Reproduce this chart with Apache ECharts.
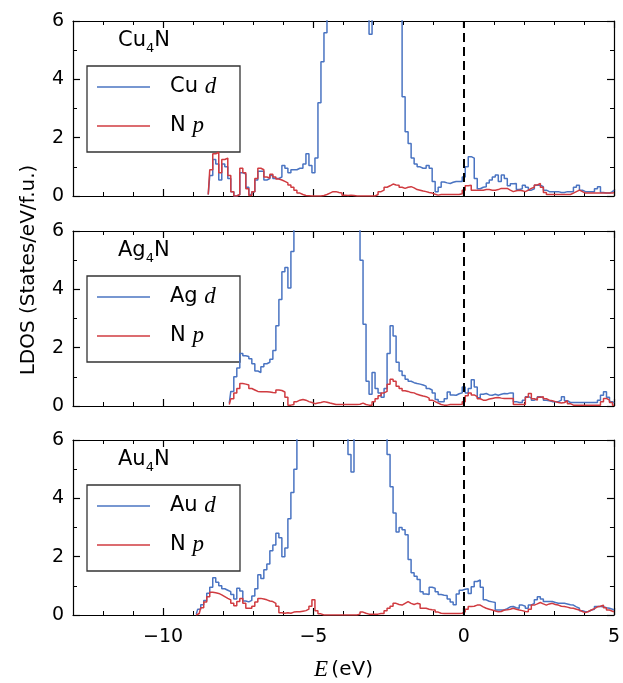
<!DOCTYPE html>
<html>
<head>
<meta charset="utf-8">
<script src="https://cdn.jsdelivr.net/npm/echarts@6/dist/echarts.min.js"></script>
<style>
  html, body { margin: 0; padding: 0; background: #fff; }
  #chart { width: 623px; height: 683px; }
</style>
</head>
<body>
<div id="chart"></div>
<script>
// Local density of states of the anti-perovskite nitrides M4N (M = Cu, Ag, Au).
// Each series is sampled on a 0.1 eV energy grid starting at its own first energy.
const energyStep = 0.1;
const xMajorTicks = [-10, -5, 0, 5];
const xMinorTicks = [-12, -11, -10, -9, -8, -7, -6, -5, -4, -3, -2, -1, 0, 1, 2, 3, 4];
const metals = ['Cu', 'Ag', 'Au'];

// Cu4N: Cu d and N p, from -8.5 eV
const cuStart = -8.5;
const cuD = [
  0.05, 0.7, 1.25, 1.1, 0.55,
  1.1, 1.0, 0.6, 0.15, 0.0, 0.05, 0.8, 0.75, 0.3, 0.05,
  0.15, 0.55, 0.85, 0.85, 0.55, 0.6, 0.7, 0.6, 0.6, 0.65,
  1.05, 0.95, 0.8, 0.9, 0.9, 0.95, 0.95, 1.1, 1.45, 1.05,
  0.8, 1.3, 3.2, 4.6, 5.6, 6.8, 8.0, 9.5, 11, 12,
  13, 13.5, 13, 12, 11, 10, 9, 8, 6.3, 5.55,
  6.4, 7.5, 8.5, 9, 9, 8.5, 8, 7.5, 7, 6.5,
  3.4, 2.2, 1.8, 1.3, 1.1, 1.0, 0.95, 0.95, 1.05, 0.95,
  0.5, 0.15, 0.3, 0.48, 0.45, 0.43, 0.47, 0.5, 0.5, 0.5,
  0.65, 1.0, 1.35, 1.3, 0.6, 0.25, 0.3, 0.32, 0.45, 0.55,
  0.65, 0.72, 0.5, 0.72, 0.6, 0.35, 0.42, 0.43, 0.22, 0.25,
  0.37, 0.3, 0.2, 0.25, 0.37, 0.37, 0.32, 0.2, 0.15, 0.15,
  0.15, 0.15, 0.12, 0.12, 0.15, 0.15, 0.15, 0.3, 0.37, 0.2,
  0.15, 0.15, 0.15, 0.15, 0.25, 0.32, 0.12, 0.1, 0.1, 0.15,
  0.2
];
const cuNp = [
  0.05, 0.9, 1.45, 1.5, 0.8,
  1.25, 1.3, 0.7, 0.15, 0.0, 0.05, 0.95, 0.8, 0.25, 0.02,
  0.15, 0.6, 0.95, 0.9, 0.65, 0.62, 0.75, 0.65, 0.58, 0.55,
  0.5, 0.45, 0.38, 0.3, 0.2, 0.1, 0.05, 0.02, 0.01, 0.0,
  0.0, 0.0, 0.0, 0.02, 0.05, 0.1, 0.15, 0.15, 0.12, 0.1,
  0.03, 0.02, 0.03, 0.02, 0.0, 0.0, 0.0, 0.0, 0.0, 0.0,
  0.0, 0.05, 0.15, 0.2, 0.3, 0.35, 0.41, 0.38, 0.37, 0.3,
  0.26, 0.3, 0.32, 0.28, 0.22, 0.2, 0.17, 0.15, 0.12, 0.1,
  0.06, 0.03, 0.05, 0.05, 0.05, 0.05, 0.05, 0.05, 0.05, 0.08,
  0.2, 0.35, 0.37, 0.2, 0.2, 0.2, 0.2, 0.22, 0.22, 0.2,
  0.2, 0.22, 0.26, 0.26, 0.26, 0.2, 0.15, 0.18, 0.2, 0.18,
  0.15, 0.2, 0.26, 0.3, 0.38, 0.43, 0.3, 0.12, 0.05, 0.05,
  0.05, 0.05, 0.05, 0.05, 0.05, 0.05, 0.1, 0.15, 0.2, 0.15,
  0.1, 0.1, 0.1, 0.1, 0.1, 0.1, 0.1, 0.1, 0.1, 0.1,
  0.12
];

// Ag4N: Ag d and N p, from -7.8 eV
const agStart = -7.8;
const agD = [
  0.1, 0.5, 1.0, 1.3, 1.8, 1.72, 1.7, 1.62,
  1.45, 1.2, 1.15, 1.35, 1.45, 1.5, 1.6, 1.9, 2.75, 3.65,
  4.6, 4.75, 4.05, 5.3, 6.4, 7.5, 8.5, 9.5, 10.5, 11,
  11.5, 12, 12, 12, 11.5, 11, 11, 10.5, 10, 9.5,
  9, 8.5, 8, 7.5, 7, 6.5, 5.0, 2.8, 0.85, 0.4,
  1.15, 0.6, 0.45, 0.3, 0.6, 1.8, 2.75, 2.4, 1.5, 1.2,
  1.05, 0.92, 0.85, 0.8, 0.77, 0.75, 0.72, 0.68, 0.6, 0.55,
  0.45, 0.22, 0.15, 0.15, 0.25, 0.48, 0.38, 0.37, 0.42, 0.45,
  0.65, 0.45, 0.6, 0.9, 0.65, 0.28, 0.4, 0.43, 0.38, 0.37,
  0.4, 0.37, 0.4, 0.43, 0.42, 0.45, 0.45, 0.15, 0.12, 0.12,
  0.2, 0.32, 0.28, 0.2, 0.25, 0.32, 0.28, 0.2, 0.18, 0.15,
  0.15, 0.15, 0.2, 0.32, 0.18, 0.12, 0.12, 0.12, 0.12, 0.12,
  0.12, 0.12, 0.12, 0.12, 0.12, 0.2, 0.37, 0.49, 0.3, 0.15,
  0.1
];
const agNp = [
  0.05, 0.25, 0.45, 0.6, 0.77, 0.75, 0.72, 0.6,
  0.55, 0.5, 0.49, 0.49, 0.49, 0.48, 0.46, 0.45, 0.55, 0.53,
  0.48, 0.3, 0.03, 0.05, 0.15, 0.2, 0.22, 0.2, 0.15, 0.12,
  0.08, 0.1, 0.12, 0.15, 0.13, 0.1, 0.08, 0.05, 0.05, 0.05,
  0.05, 0.05, 0.05, 0.05, 0.05, 0.06, 0.1, 0.05, 0.03, 0.03,
  0.15, 0.25, 0.35, 0.45, 0.5, 0.75, 0.92, 0.85, 0.68, 0.6,
  0.52, 0.5, 0.46, 0.45, 0.4, 0.37, 0.34, 0.32, 0.27, 0.2,
  0.15, 0.1, 0.05, 0.03, 0.03, 0.05, 0.05, 0.05, 0.05, 0.06,
  0.15, 0.35, 0.45, 0.38, 0.32, 0.25, 0.2, 0.2, 0.24, 0.26,
  0.28, 0.29, 0.27, 0.26, 0.26, 0.26, 0.26, 0.05, 0.05, 0.05,
  0.05, 0.3, 0.43, 0.25, 0.2, 0.3, 0.32, 0.25, 0.2, 0.18,
  0.15, 0.12, 0.1, 0.12, 0.18, 0.08, 0.03, 0.03, 0.03, 0.03,
  0.03, 0.03, 0.03, 0.03, 0.03, 0.03, 0.15, 0.26, 0.2, 0.12,
  0.03
];

// Au4N: Au d and N p, from -8.9 eV
const auStart = -8.9;
const auD = [
  0.02, 0.2, 0.35, 0.5, 0.75, 0.95, 1.28, 1.12, 1.0,
  0.9, 0.85, 0.8, 0.7, 0.55, 0.92, 0.82, 0.48, 0.45, 0.5,
  0.65, 0.9, 1.38, 1.25, 1.55, 1.75, 2.2, 2.4, 2.8, 2.65,
  2.0, 2.3, 3.3, 4.2, 5.0, 6.2, 7.5, 8.5, 9.5, 10.5,
  11, 11.5, 12, 12, 12, 11.5, 11, 10.5, 10, 9,
  8, 7, 5.5, 4.9, 6.3, 7.5, 8.5, 9.5, 10, 10,
  9.5, 9, 8, 7, 6.5, 5.5, 4.4, 3.5, 2.85, 3.0,
  2.92, 2.75, 1.9, 1.45, 1.33, 1.22, 0.8, 0.72, 0.7, 0.95,
  0.92, 0.8, 0.7, 0.68, 0.67, 0.55, 0.45, 0.35, 0.72, 0.85,
  0.88, 0.9, 0.74, 0.97, 1.15, 1.2, 0.95, 0.52, 0.47, 0.45,
  0.43, 0.17, 0.17, 0.17, 0.22, 0.28, 0.29, 0.25, 0.23, 0.34,
  0.3, 0.23, 0.34, 0.4, 0.52, 0.63, 0.55, 0.46, 0.46, 0.46,
  0.43, 0.4, 0.4, 0.4, 0.38, 0.35, 0.34, 0.28, 0.23, 0.15,
  0.11, 0.12, 0.17, 0.2, 0.29, 0.29, 0.28, 0.25, 0.23, 0.2,
  0.17
];
const auNp = [
  0.0, 0.05, 0.25, 0.45, 0.63, 0.78, 0.76, 0.74, 0.69,
  0.63, 0.57, 0.52, 0.4, 0.32, 0.46, 0.57, 0.4, 0.23, 0.23,
  0.3, 0.45, 0.57, 0.55, 0.52, 0.48, 0.46, 0.4, 0.3, 0.08,
  0.06, 0.08, 0.06, 0.1, 0.11, 0.11, 0.13, 0.15, 0.2, 0.3,
  0.52, 0.15, 0.04, 0.0, 0.0, 0.0, 0.0, 0.0, 0.0, 0.0,
  0.0, 0.0, 0.0, 0.0, 0.0, 0.03, 0.1, 0.06, 0.03, 0.03,
  0.03, 0.03, 0.05, 0.05, 0.15, 0.23, 0.3, 0.4, 0.36, 0.34,
  0.4, 0.46, 0.4, 0.36, 0.4, 0.38, 0.23, 0.23, 0.2, 0.18,
  0.17, 0.1, 0.06, 0.05, 0.05, 0.05, 0.05, 0.05, 0.05, 0.06,
  0.11, 0.2, 0.29, 0.3, 0.34, 0.34, 0.28, 0.23, 0.2, 0.17,
  0.14, 0.11, 0.12, 0.17, 0.18, 0.2, 0.23, 0.2, 0.17, 0.15,
  0.12, 0.11, 0.2, 0.34, 0.38, 0.43, 0.38, 0.34, 0.38, 0.4,
  0.36, 0.34, 0.3, 0.29, 0.27, 0.24, 0.23, 0.2, 0.17, 0.12,
  0.08, 0.12, 0.17, 0.22, 0.28, 0.3, 0.34, 0.25, 0.17, 0.13,
  0.11
];

const panels = [
  { metal: 'Cu', start: cuStart, d: cuD, p: cuNp },
  { metal: 'Ag', start: agStart, d: agD, p: agNp },
  { metal: 'Au', start: auStart, d: auD, p: auNp }
];

const BLUE = '#4a74c2';
const RED = '#d03b40';
const SANS = '"DejaVu Sans", sans-serif';
const SERIF = '"Liberation Serif", serif';
const LINE_W = 1.5;

const gridLeft = 73, gridRight = 9, gridHeight = 175;
const gridTops = [21, 231, 440];

const toPairs = (start, values) =>
  values.map((v, i) => [+(start + i * energyStep).toFixed(2), v]);
const minusSign = v => String(v).replace('-', '\u2212');

const grids = [], xAxes = [], yAxes = [], series = [], graphics = [];

panels.forEach((panel, g) => {
  const top = gridTops[g];
  grids.push({ left: gridLeft, right: gridRight, top: top, height: gridHeight });
  const isLast = g === panels.length - 1;

  const xBase = {
    gridIndex: g, type: 'value', min: -13, max: 5,
    splitLine: { show: false }
  };
  // bottom: major ticks (+ labels on the last panel)
  const xMain = xAxes.length;
  xAxes.push(Object.assign({}, xBase, {
    position: 'bottom',
    axisLine: { show: true, onZero: false, lineStyle: { color: '#000', width: 1.2 } },
    axisTick: { show: true, inside: true, length: 7, customValues: xMajorTicks, lineStyle: { color: '#000', width: 1.2 } },
    axisLabel: {
      show: isLast, customValues: xMajorTicks, margin: 13,
      color: '#000', fontFamily: SANS, fontSize: 19, formatter: minusSign
    },
    name: isLast ? '{i|E} {t|(eV)}' : '',
    nameLocation: 'middle', nameGap: 43,
    nameTextStyle: {
      rich: {
        i: { fontFamily: SERIF, fontStyle: 'italic', fontSize: 23, color: '#000' },
        t: { fontFamily: SANS, fontSize: 20, color: '#000' }
      }
    }
  }));
  // bottom: minor ticks
  xAxes.push(Object.assign({}, xBase, {
    position: 'bottom',
    axisLine: { show: false, onZero: false },
    axisTick: { show: true, inside: true, length: 4, customValues: xMinorTicks, lineStyle: { color: '#000', width: 1 } },
    axisLabel: { show: false }
  }));
  // top frame: major and minor ticks
  xAxes.push(Object.assign({}, xBase, {
    position: 'top',
    axisLine: { show: true, onZero: false, lineStyle: { color: '#000', width: 1.2 } },
    axisTick: { show: true, inside: true, length: 7, customValues: xMajorTicks, lineStyle: { color: '#000', width: 1.2 } },
    axisLabel: { show: false }
  }));
  xAxes.push(Object.assign({}, xBase, {
    position: 'top',
    axisLine: { show: false, onZero: false },
    axisTick: { show: true, inside: true, length: 4, customValues: xMinorTicks, lineStyle: { color: '#000', width: 1 } },
    axisLabel: { show: false }
  }));

  const yBase = {
    gridIndex: g, type: 'value', min: 0, max: 6, interval: 2,
    splitLine: { show: false },
    axisLine: { show: true, onZero: false, lineStyle: { color: '#000', width: 1.2 } },
    axisTick: { show: true, inside: true, length: 7, lineStyle: { color: '#000', width: 1.2 } },
    minorTick: { show: true, splitNumber: 2, length: 4, lineStyle: { color: '#000', width: 1 } }
  };
  const yMain = yAxes.length;
  yAxes.push(Object.assign({}, yBase, {
    position: 'left',
    axisLabel: { show: true, margin: 9, color: '#000', fontFamily: SANS, fontSize: 19 }
  }));
  yAxes.push(Object.assign({}, yBase, {
    position: 'right',
    axisLabel: { show: false }
  }));

  series.push({
    name: panel.metal + ' d',
    type: 'line', step: 'middle', showSymbol: false, silent: true,
    xAxisIndex: xMain, yAxisIndex: yMain,
    lineStyle: { color: BLUE, width: LINE_W }, itemStyle: { color: BLUE },
    data: toPairs(panel.start, panel.d)
  });
  series.push({
    name: panel.metal + '4N N p',
    type: 'line', step: 'middle', showSymbol: false, silent: true,
    xAxisIndex: xMain, yAxisIndex: yMain,
    lineStyle: { color: RED, width: LINE_W }, itemStyle: { color: RED },
    data: toPairs(panel.start, panel.p),
    // Fermi level
    markLine: {
      silent: true, symbol: ['none', 'none'], label: { show: false },
      lineStyle: { color: '#000', width: 2, type: [9, 5] },
      data: [{ xAxis: 0 }]
    }
  });

  // compound name
  graphics.push({
    type: 'text', left: 118, top: top + 9, z: 20,
    style: {
      text: '{a|' + panel.metal + '}{s|4}{a|N}',
      rich: {
        a: { fontFamily: SANS, fontSize: 21, color: '#000', lineHeight: 26, verticalAlign: 'bottom' },
        s: { fontFamily: SANS, fontSize: 13, color: '#000', lineHeight: 26, verticalAlign: 'bottom', padding: [0, 0, -4, 0] }
      }
    }
  });

  // legend box
  const lx = 87, ly = top + 45;
  graphics.push({
    type: 'group', z: 20,
    children: [
      { type: 'rect', shape: { x: lx, y: ly, width: 153, height: 86 },
        style: { fill: '#fff', stroke: '#333', lineWidth: 1.3 } },
      { type: 'line', shape: { x1: 97, y1: ly + 21, x2: 150, y2: ly + 21 },
        style: { stroke: BLUE, lineWidth: LINE_W } },
      { type: 'line', shape: { x1: 97, y1: ly + 60, x2: 150, y2: ly + 60 },
        style: { stroke: RED, lineWidth: LINE_W } },
      { type: 'text', x: 170, y: ly + 21,
        style: {
          text: '{n|' + panel.metal + ' }{i|d}', verticalAlign: 'middle',
          rich: {
            n: { fontFamily: SANS, fontSize: 21, color: '#000' },
            i: { fontFamily: SERIF, fontStyle: 'italic', fontSize: 23, color: '#000' }
          }
        } },
      { type: 'text', x: 170, y: ly + 60,
        style: {
          text: '{n|N }{i|p}', verticalAlign: 'middle',
          rich: {
            n: { fontFamily: SANS, fontSize: 21, color: '#000' },
            i: { fontFamily: SERIF, fontStyle: 'italic', fontSize: 23, color: '#000' }
          }
        } }
    ]
  });
});

// shared y-axis title
graphics.push({
  type: 'text', x: 29, y: 270, rotation: Math.PI / 2,
  style: {
    text: 'LDOS (States/eV/f.u.)', fill: '#000',
    font: '20px "DejaVu Sans", sans-serif',
    align: 'center', verticalAlign: 'middle'
  }
});

const chart = echarts.init(document.getElementById('chart'), null, { renderer: 'canvas' });
chart.setOption({
  animation: false,
  backgroundColor: '#fff',
  grid: grids,
  xAxis: xAxes,
  yAxis: yAxes,
  series: series,
  graphic: graphics
});
</script>
</body>
</html>
